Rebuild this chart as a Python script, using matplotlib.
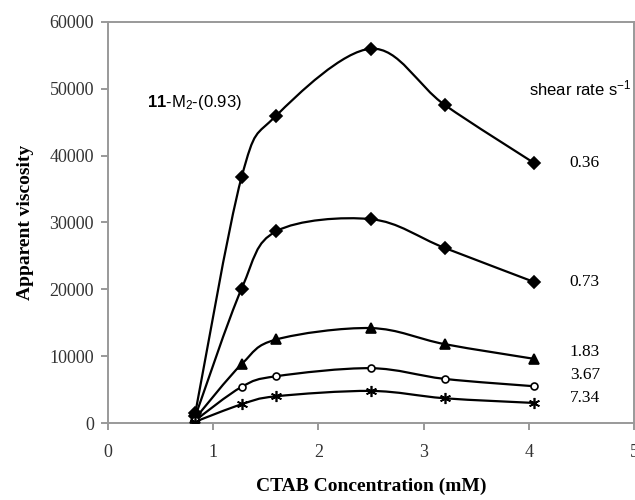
import matplotlib
matplotlib.use("Agg")
import matplotlib.pyplot as plt
from matplotlib.path import Path
from matplotlib.patches import PathPatch
import numpy as np

conc = [0.83, 1.27, 1.6, 2.5, 3.2, 4.05]
visc_036 = [1500, 36800, 46000, 56000, 47600, 38900]
visc_073 = [1000, 20100, 28700, 30500, 26200, 21100]
visc_183 = [700, 8800, 12500, 14200, 11800, 9600]
visc_367 = [400, 5400, 7000, 8200, 6600, 5500]
visc_734 = [200, 2800, 4000, 4800, 3700, 3000]
shear_labels = ["0.36", "0.73", "1.83", "3.67", "7.34"]
label_y = [38900, 21100, 10600, 7200, 3700]

series = [visc_036, visc_073, visc_183, visc_367, visc_734]
markers = ["D", "D", "^", "o", (6, 2, 0)]
msizes = [6, 6, 7, 5, 8]
faces = ["black", "black", "black", "white", "black"]

plt.rcParams["mathtext.fontset"] = "custom"
plt.rcParams["mathtext.rm"] = "Liberation Sans"
plt.rcParams["mathtext.it"] = "Liberation Sans:italic"
plt.rcParams["mathtext.bf"] = "Liberation Sans:bold"

fig = plt.figure(figsize=(6.35, 5.0), dpi=100)
ax = fig.add_axes([108/635, 77/500, 526/635, 401/500])

def smooth_path(xs, ys):
    pts = np.column_stack([xs, ys]).astype(float)
    n = len(pts)
    verts = [pts[0]]
    codes = [Path.MOVETO]
    for i in range(n - 1):
        p0 = pts[i - 1] if i > 0 else pts[i]
        p1 = pts[i]
        p2 = pts[i + 1]
        p3 = pts[i + 2] if i + 2 < n else pts[i + 1]
        c1 = p1 + (p2 - p0) / 6.0
        c2 = p2 - (p3 - p1) / 6.0
        verts += [c1, c2, p2]
        codes += [Path.CURVE4] * 3
    return Path(verts, codes)

for ys, m, ms, fc in zip(series, markers, msizes, faces):
    ax.add_patch(PathPatch(smooth_path(conc, ys), fill=False, lw=1.6,
                           edgecolor="black", zorder=2))
    ax.plot(conc, ys, linestyle="none", marker=m, markersize=ms,
            markerfacecolor=fc, markeredgecolor="black", markeredgewidth=1.2,
            zorder=3)

ax.set_xlim(0, 5)
ax.set_ylim(0, 60000)
ax.set_xticks([0, 1, 2, 3, 4, 5])
ax.set_yticks(range(0, 60001, 10000))
ax.set_xticklabels(["0", "1", "2", "3", "4", "5"])
ax.set_yticklabels([str(v) for v in range(0, 60001, 10000)])

serif = "Liberation Serif"
sans = "Liberation Sans"
for lab in ax.get_xticklabels() + ax.get_yticklabels():
    lab.set_fontfamily(serif)
    lab.set_fontsize(13)
    lab.set_color("#333333")

ax.tick_params(axis="both", direction="out", length=5, width=1.2,
               color="#888888", pad=5)
ax.tick_params(axis="x", pad=10)
for sp in ax.spines.values():
    sp.set_color("#999999")
    sp.set_linewidth(1.4)

ax.set_xlabel("CTAB Concentration (mM)", fontfamily=serif, fontweight="bold",
              fontsize=14, labelpad=12)
ax.set_ylabel("Apparent viscosity", fontfamily=serif, fontweight="bold",
              fontsize=14, labelpad=11)

ax.text(0.37, 48000, r"$\mathbf{11}$-M$_2$-(0.93)", fontfamily=sans,
        fontsize=12, va="center", ha="left")
ax.text(4.0, 50000, r"shear rate s$^{-1}$", fontfamily=sans, fontsize=12,
        va="center", ha="left", clip_on=False)
for lab, yv in zip(shear_labels, label_y):
    ax.text(4.39, yv, lab, fontfamily=serif, fontsize=12.5, va="center",
            ha="left")

fig.savefig("out.png", dpi=100)
